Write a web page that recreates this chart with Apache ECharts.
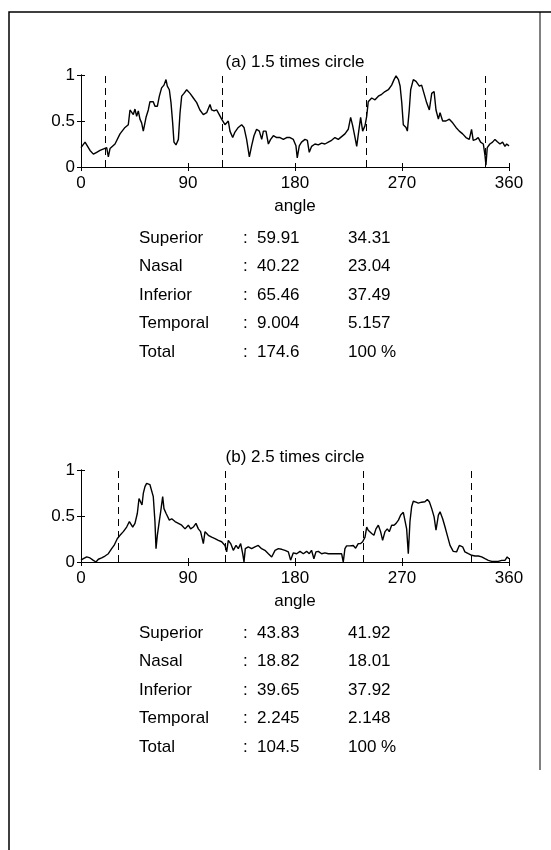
<!DOCTYPE html>
<html>
<head>
<meta charset="utf-8">
<style>
  html, body { margin: 0; padding: 0; background: #fff; }
  #chart { width: 551px; height: 850px; }
</style>
<script src="https://cdn.jsdelivr.net/npm/echarts@6/dist/echarts.min.js"></script>
</head>
<body>
<div id="chart"></div>
<script>
// (a) 1.5 times circle
const angleA = [0, 3.4, 4.8, 7.6, 10.4, 13.2, 16, 19.6, 21.6, 23, 24.4, 28.6, 32.8, 37, 39.8, 41.2, 42.6, 44, 45.4, 46.8,
  48.2, 49.6, 51, 52.4, 54.7, 56.6, 58, 60.8, 62.2, 64.2, 65.9, 67.8, 69.8, 71.5, 72.6, 74.3, 75.7, 77.1, 78.2, 79.9,
  81.9, 83.3, 84.7, 86.6, 88.9, 91.7, 94.5, 97.3, 100, 102.9, 105.7, 108.5, 109.9, 111.9, 114.1, 116.3, 118.3, 121.1,
  122.5, 123.9, 125.3, 127.6, 129.5, 132.3, 135.1, 137.1, 139.3, 141.6, 143.5, 145.5, 147.7, 150, 152, 153.4, 155.6,
  157.6, 159.5, 161.8, 164.6, 167.4, 170.2, 173, 175.8, 178.6, 180.8, 181.9, 183.6, 185.5, 188.4, 190.4, 192, 194,
  196.8, 199.6, 202.4, 205.2, 208, 210.8, 213.6, 216.4, 219.2, 222, 224.8, 226.8, 228.5, 230.5, 231.9, 233.3, 235.2,
  236.9, 238.9, 240.3, 241.6, 244.5, 247.3, 250.1, 252.9, 255.7, 258.5, 261.3, 263.3, 265, 267, 268.4, 269.8, 271.1,
  273.4, 274.5, 276.1, 277.3, 279.5, 281.8, 284.6, 286.5, 288.5, 290.7, 293, 295, 297, 298.6, 300.6, 302, 304.2, 307,
  309.8, 312.6, 315.4, 318.2, 321, 323.8, 326.6, 328.5, 329.9, 332.2, 334.1, 336.1, 338.4, 339.8, 340.6, 341.7, 343.9,
  346.2, 348.2, 350.2, 352.4, 354.6, 356.6, 358, 360];
const valueA = [0.21, 0.27, 0.25, 0.18, 0.14, 0.16, 0.18, 0.20, 0.21, 0.11, 0.20, 0.25, 0.36, 0.43, 0.46, 0.62, 0.64, 0.57, 0.63, 0.55,
  0.61, 0.52, 0.48, 0.39, 0.54, 0.62, 0.71, 0.71, 0.66, 0.66, 0.77, 0.86, 0.89, 0.95, 0.88, 0.84, 0.70, 0.48, 0.27, 0.24,
  0.30, 0.59, 0.77, 0.80, 0.84, 0.80, 0.75, 0.70, 0.62, 0.57, 0.59, 0.68, 0.62, 0.61, 0.62, 0.57, 0.52, 0.46,
  0.45, 0.50, 0.39, 0.32, 0.38, 0.43, 0.46, 0.43, 0.30, 0.11, 0.23, 0.34, 0.41, 0.39, 0.30, 0.39, 0.39,
  0.25, 0.30, 0.34, 0.32, 0.32, 0.30, 0.32, 0.32, 0.30, 0.23, 0.10, 0.23, 0.27, 0.30, 0.29, 0.16, 0.225,
  0.25, 0.24, 0.26, 0.25, 0.27, 0.29, 0.32, 0.30, 0.33, 0.36, 0.41, 0.54, 0.45, 0.32, 0.225, 0.36, 0.54,
  0.39, 0.45, 0.55, 0.71, 0.75, 0.73, 0.77, 0.79, 0.82, 0.84, 0.89, 0.95, 0.99, 0.95, 0.88, 0.70, 0.46,
  0.43, 0.39, 0.62, 0.84, 0.95, 0.93, 0.88, 0.89, 0.80, 0.70, 0.62, 0.80, 0.82, 0.62, 0.52, 0.59, 0.50, 0.50,
  0.52, 0.48, 0.43, 0.39, 0.36, 0.32, 0.30, 0.41, 0.29, 0.30, 0.32, 0.27, 0.25, 0.125, 0.02, 0.21, 0.25,
  0.27, 0.30, 0.275, 0.25, 0.27, 0.225, 0.25, 0.23];

// (b) 2.5 times circle
const angleB = [0, 2, 4.8, 7.6, 10.4, 12.6, 14.6, 17.4, 20.2, 23, 25.8, 27.8, 29.4, 30.6, 32.8, 35.6, 38.4, 40.7, 42, 43.5,
  45.4, 47.4, 48.8, 50.2, 51.3, 52.4, 53.8, 55.2, 56.6, 58, 59.4, 60.8, 62.2, 63.1, 64.2, 65.6, 67, 68.7, 69.8, 71.5,
  72.6, 74.3, 76.3, 79.1, 81.9, 84.7, 87.5, 90.3, 92.2, 94.5, 96.7, 98.7, 100.6, 102.9, 104.3, 107.1, 109.9, 112.7,
  115.5, 118.3, 121.1, 122.5, 123.9, 125.9, 128.1, 130.4, 132.3, 134.3, 136, 137.1, 138.2, 140.7, 143.5, 146.3, 149.1,
  151.9, 154.7, 157.6, 160.4, 163.2, 166, 168.8, 171.6, 174.4, 176.3, 178.6, 181.4, 184.2, 187, 189.8, 192, 193.9,
  195.9, 197.6, 199.6, 202.4, 205.2, 208, 210.8, 213.6, 216.4, 219.2, 220.6, 222, 223.4, 226.2, 229, 231, 233.2, 235.2,
  236.9, 238.9, 240.3, 241.6, 243, 244.5, 246.4, 248.1, 250.1, 252, 253.7, 255.7, 257.6, 259.3, 261.3, 263.3, 265, 267,
  268.9, 271.1, 272.5, 273.9, 275.3, 276.7, 278.1, 279.5, 281.8, 283.7, 286.5, 289.3, 291.3, 293, 295, 297, 298.6,
  300.6, 302, 304.2, 306.2, 308.1, 310.4, 313.1, 315.9, 318.2, 319.3, 321, 322.9, 325.8, 328.6, 331.4, 334.2, 337,
  339.8, 342.6, 345.4, 348.2, 351, 353.8, 356.6, 358.5, 360];
const valueB = [0.02, 0.036, 0.055, 0.044, 0.018, 0.0, 0.03, 0.044, 0.065, 0.09, 0.145, 0.18, 0.165, 0.255, 0.29, 0.33, 0.38, 0.44, 0.42, 0.38,
  0.42, 0.53, 0.69, 0.67, 0.62, 0.745, 0.82, 0.855, 0.87, 0.84, 0.82, 0.71, 0.44, 0.145, 0.29, 0.42, 0.545, 0.71, 0.58, 0.53,
  0.545, 0.455, 0.47, 0.44, 0.42, 0.40, 0.36, 0.40, 0.36, 0.38, 0.42, 0.36, 0.33, 0.20, 0.33, 0.29, 0.27, 0.255,
  0.235, 0.22, 0.18, 0.11, 0.235, 0.20, 0.127, 0.18, 0.145, 0.20, 0.09, 0.0, 0.145, 0.165, 0.145, 0.165, 0.18,
  0.145, 0.127, 0.09, 0.055, 0.127, 0.145, 0.138, 0.127, 0.11, 0.02, 0.10, 0.09, 0.116, 0.09, 0.116, 0.09, 0.127,
  0.036, 0.11, 0.116, 0.09, 0.10, 0.09, 0.09, 0.09, 0.09, 0.09, 0.0, 0.145, 0.175, 0.175, 0.18, 0.15, 0.20, 0.20,
  0.22, 0.27, 0.38, 0.345, 0.36, 0.31, 0.29, 0.36, 0.40, 0.33, 0.236, 0.33, 0.36, 0.33, 0.40, 0.40, 0.42, 0.455,
  0.51, 0.54, 0.53, 0.36, 0.09, 0.44, 0.60, 0.66, 0.65, 0.64, 0.65, 0.655, 0.68, 0.655, 0.58, 0.49, 0.345,
  0.51, 0.545, 0.47, 0.38, 0.29, 0.18, 0.116, 0.11, 0.18, 0.20, 0.165, 0.11, 0.09, 0.073, 0.065, 0.065, 0.055,
  0.036, 0.018, 0.007, 0.007, 0.007, 0.018, 0.018, 0.055, 0.036];

const dividersA = [20, 119, 240, 340];
const dividersB = [31, 121, 237, 328];

const xTicks = [0, 90, 180, 270, 360];
const yTicks = [0, 0.5, 1];

const titles = ['(a) 1.5 times circle', '(b) 2.5 times circle'];
const regions = ['Superior', 'Nasal', 'Inferior', 'Temporal', 'Total'];
const sumA = ['59.91', '40.22', '65.46', '9.004', '174.6'];
const pctA = ['34.31', '23.04', '37.49', '5.157', '100 %'];
const sumB = ['43.83', '18.82', '39.65', '2.245', '104.5'];
const pctB = ['41.92', '18.01', '37.92', '2.148', '100 %'];

const FONT = '"Liberation Sans", Arial, sans-serif';
const FS = 17;

const chart = echarts.init(document.getElementById('chart'), null, { renderer: 'canvas' });

const panels = [
  { top: 75, angles: angleA, values: valueA, dividers: dividersA, sums: sumA, pcts: pctA },
  { top: 470, angles: angleB, values: valueB, dividers: dividersB, sums: sumB, pcts: pctB },
];

const axisLine = { show: true, lineStyle: { color: '#000', width: 1 } };
const axisTick = { show: true, inside: true, length: 4, lineStyle: { color: '#000', width: 1 } };

const grid = [];
const xAxis = [];
const yAxis = [];
const series = [];
const graphic = [];

panels.forEach((p, i) => {
  grid.push({ left: 81, top: p.top, width: 428, height: 92 });

  const xBase = {
    gridIndex: i,
    type: 'value',
    min: xTicks[0],
    max: xTicks[xTicks.length - 1],
    interval: xTicks[1] - xTicks[0],
    axisLine,
    axisTick,
    splitLine: { show: false },
  };
  xAxis.push({
    ...xBase,
    position: 'bottom',
    name: 'angle',
    nameLocation: 'middle',
    nameGap: 31,
    nameTextStyle: { color: '#000', fontFamily: FONT, fontSize: FS },
    axisLabel: { color: '#000', fontFamily: FONT, fontSize: FS, margin: 8 },
  });
  xAxis.push({ ...xBase, position: 'top', axisLabel: { show: false } });

  const yBase = {
    gridIndex: i,
    type: 'value',
    min: yTicks[0],
    max: yTicks[yTicks.length - 1],
    interval: yTicks[1] - yTicks[0],
    axisLine,
    axisTick,
    splitLine: { show: false },
  };
  yAxis.push({
    ...yBase,
    position: 'left',
    axisLabel: { color: '#000', fontFamily: FONT, fontSize: FS, margin: 6 },
  });
  yAxis.push({ ...yBase, position: 'right', axisLabel: { show: false } });

  series.push({
    type: 'line',
    xAxisIndex: i * 2,
    yAxisIndex: i * 2,
    data: p.angles.map((a, k) => [a, p.values[k]]),
    showSymbol: false,
    lineStyle: { color: '#000', width: 1.4 },
    animation: false,
    markLine: {
      silent: true,
      symbol: 'none',
      label: { show: false },
      lineStyle: { color: '#000', width: 1, type: [7, 5] },
      data: p.dividers.map((v) => ({ xAxis: v })),
      animation: false,
    },
  });

  const off = p.top - 75;
  graphic.push({
    type: 'text',
    x: 295,
    y: 62 + off,
    style: { text: titles[i], font: `${FS}px ${FONT}`, fill: '#000', textAlign: 'center', textVerticalAlign: 'middle' },
  });

  regions.forEach((name, r) => {
    const y = 238 + off + r * 28.5;
    const cells = [
      [139, name],
      [243, ':'],
      [257, p.sums[r]],
      [348, p.pcts[r]],
    ];
    cells.forEach(([x, t]) => {
      graphic.push({
        type: 'text',
        x,
        y,
        style: { text: t, font: `${FS}px ${FONT}`, fill: '#000', textAlign: 'left', textVerticalAlign: 'middle' },
      });
    });
  });
});

// outer frame of the figure
graphic.push({
  type: 'polyline',
  shape: { points: [[9, 850], [9, 12], [551, 12]] },
  style: { stroke: '#000', lineWidth: 1.5, fill: null },
});
graphic.push({
  type: 'line',
  shape: { x1: 540, y1: 12, x2: 540, y2: 770 },
  style: { stroke: '#000', lineWidth: 1 },
});

chart.setOption({
  animation: false,
  backgroundColor: '#fff',
  grid,
  xAxis,
  yAxis,
  series,
  graphic,
});
</script>
</body>
</html>
